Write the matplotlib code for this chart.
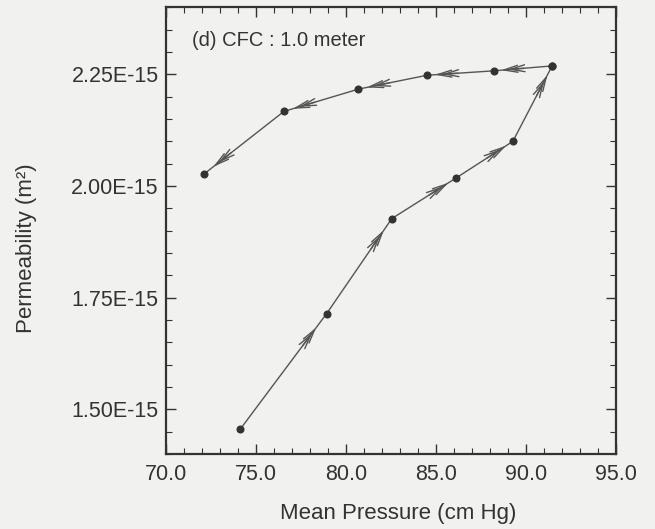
import numpy as np
import matplotlib
matplotlib.use('Agg')
import matplotlib.pyplot as plt
from matplotlib.ticker import MultipleLocator, FuncFormatter

plt.rcParams['font.family'] = ['Liberation Sans', 'DejaVu Sans']

# Mean pressure (cm Hg) and permeability (m^2)
# loading branch (pressure going up)
p_up = [74.15, 78.93, 82.55, 86.12, 89.27, 91.45]
k_up = [1.456e-15, 1.714e-15, 1.927e-15, 2.018e-15, 2.100e-15, 2.269e-15]
# unloading branch (pressure going down)
p_down = [91.45, 88.23, 84.50, 80.70, 76.56, 72.10]
k_down = [2.269e-15, 2.258e-15, 2.248e-15, 2.217e-15, 2.167e-15, 2.026e-15]

x_ticks = [70.0, 75.0, 80.0, 85.0, 90.0, 95.0]
y_ticks = [1.50e-15, 1.75e-15, 2.00e-15, 2.25e-15]
panel_label = "(d) CFC : 1.0 meter"

bg = '#f1f1ef'
ink = '#333333'
line_c = '#555555'

fig = plt.figure(figsize=(6.55, 5.29), dpi=100, facecolor=bg)
ax = fig.add_axes([0.253, 0.142, 0.6876, 0.844], facecolor=bg)

ax.set_xlim(70, 95)
ax.set_ylim(1.40e-15, 2.40e-15)

# lines and markers
for px, py in [(p_up, k_up), (p_down, k_down)]:
    ax.plot(px, py, '-', color=line_c, lw=1.0, zorder=2)
    ax.plot(px, py, 'o', color=ink, ms=4.8, zorder=3)

# double chevron arrows near the end of each segment
fig.canvas.draw()
to_disp = ax.transData.transform
to_data = ax.transData.inverted().transform


def add_arrows(px, py, t=0.88):
    for i in range(len(px) - 1):
        a = to_disp((px[i], py[i]))
        b = to_disp((px[i + 1], py[i + 1]))
        d = b - a
        u = d / np.hypot(*d)
        tip = a + t * d
        for back in (0, 7):
            h = tip - back * u
            tail = h - 16 * u
            ax.annotate('', xy=to_data(h), xytext=to_data(tail),
                        arrowprops=dict(arrowstyle='->,head_length=1.0,head_width=0.25',
                                        color=line_c, lw=1.0, shrinkA=0, shrinkB=0),
                        zorder=2)


add_arrows(p_up, k_up)
add_arrows(p_down, k_down)

# ticks
ax.set_xticks(x_ticks)
ax.set_yticks(y_ticks)
ax.xaxis.set_minor_locator(MultipleLocator(1.0))
ax.yaxis.set_minor_locator(MultipleLocator(0.05e-15))
ax.xaxis.set_major_formatter(FuncFormatter(lambda v, pos: f'{v:.1f}'))
ax.yaxis.set_major_formatter(FuncFormatter(lambda v, pos: f'{v * 1e15:.2f}E-15'))
ax.tick_params(which='both', direction='in', top=True, right=True, color=ink,
               labelcolor=ink, labelsize=15.5)
ax.tick_params(which='major', length=7, width=1.0)
ax.tick_params(which='minor', length=4, width=0.8)
ax.tick_params(axis='x', pad=7)
ax.tick_params(axis='y', pad=5)

for spine in ax.spines.values():
    spine.set_linewidth(1.6)
    spine.set_color(ink)

ax.set_xlabel('Mean Pressure (cm Hg)', fontsize=16, color=ink)
ax.xaxis.set_label_coords(0.517, -0.11)
ax.set_ylabel('Permeability (m²)', fontsize=16, color=ink)
ax.yaxis.set_label_coords(-0.285, 0.46)

ax.text(71.45, 2.325e-15, panel_label, fontsize=14.5, color=ink,
        ha='left', va='center')

fig.savefig('out.png', dpi=100, facecolor=bg)
